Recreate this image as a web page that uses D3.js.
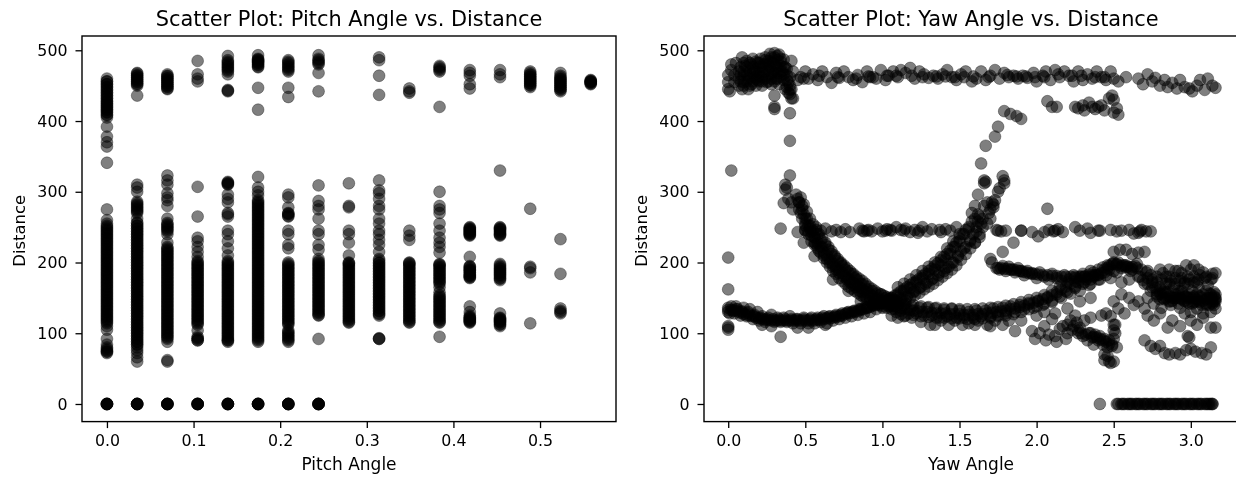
<!DOCTYPE html>
<html>
<head>
<meta charset="utf-8">
<title>Scatter plots</title>
<script src="https://cdnjs.cloudflare.com/ajax/libs/d3/7.8.5/d3.min.js"></script>
<style>
  body { margin: 0; background: #fff; overflow: hidden; }
  svg { display: block; filter: blur(0.45px); }
  text { font-family: "DejaVu Sans", sans-serif; fill: #000; }
</style>
</head>
<body>
<script>
// pitch values are the discrete 2 degree steps seen on the left plot
var pitchSteps = [0, 0.0349, 0.0698, 0.1047, 0.1396, 0.1745, 0.2094, 0.2443, 0.2793, 0.3142, 0.3491, 0.384, 0.4189, 0.4538, 0.4887, 0.5236, 0.5585];

var pitch00 = [0,0,0,0,0,0,72,74,76,80,84,92,105,110,114,118,122,126,130,134,138,142,146,150,154,158,162,166,170,174,178,182,186,190,194,198,202,206,210,214,218,222,226,230,234,238,242,246,250,255,260,275,341,364,370,378,392,405,409,413,416,419,422,425,428,432,436,440,444,448,452,456,460];
var pitch02 = [0,0,0,0,0,0,60,66,72,76,80,84,88,92,96,100,104,108,112,116,120,124,128,132,136,140,144,148,152,156,160,164,168,172,176,180,184,188,192,196,200,204,208,212,216,220,224,228,232,236,240,244,248,252,256,262,270,274,278,282,286,300,306,310,436,450,453,456,459,462,465,468];
var pitch04 = [0,0,0,0,0,0,60,62,88,92,96,100,104,108,112,116,120,124,128,132,136,140,144,148,152,156,160,164,168,172,176,180,184,188,192,196,200,204,208,212,216,220,228,240,244,248,252,256,262,280,288,292,298,310,316,323,445,448,451,454,457,460,463,466];
var pitch06 = [0,0,0,0,0,0,90,92,95,104,112,116,120,124,128,132,136,140,144,148,152,156,160,164,168,172,176,180,184,188,192,196,200,208,215,222,230,235,265,307,456,460,466,485];
var pitch08 = [0,0,0,0,0,0,88,90,92,96,100,104,108,112,116,120,124,128,132,136,140,144,148,152,156,160,164,168,172,176,180,184,188,192,196,200,210,220,230,240,245,265,270,285,290,296,310,312,314,442,443,444,466,470,474,478,482,486,492];
var pitch10 = [0,0,0,0,0,0,88,92,96,100,104,108,112,116,120,124,128,132,136,140,144,148,152,156,160,164,168,172,176,180,184,188,192,196,200,204,208,212,216,220,224,228,232,236,240,244,248,252,256,260,264,268,272,276,280,284,288,295,300,306,321,416,447,476,479,482,484,486,488,493];
var pitch12 = [0,0,0,0,0,0,88,92,96,100,104,112,116,120,124,128,132,136,140,144,148,152,156,160,164,168,172,176,180,184,188,192,196,200,220,225,240,245,265,268,270,278,292,296,434,447,470,474,478,482,486];
var pitch14 = [0,0,0,0,0,0,92,125,128,132,136,140,144,148,152,156,160,164,168,172,176,180,184,188,192,196,200,205,218,225,240,245,262,275,280,287,309,442,468,480,484,488,493];
var pitch16 = [115,118,122,126,130,134,138,142,146,150,154,158,162,166,170,174,178,182,186,190,194,198,200,210,228,240,245,278,280,312];
var pitch18 = [92,92,93,125,128,132,136,140,144,148,152,156,160,164,168,172,176,180,184,188,192,196,200,205,215,225,232,240,245,255,262,275,280,290,298,302,316,437,464,486,490];
var pitch20 = [115,118,122,126,130,134,138,142,146,150,154,158,162,166,170,174,178,182,186,190,194,198,200,232,238,245,440,442,446];
var pitch22 = [95,115,118,122,126,130,134,138,142,146,150,154,158,165,172,176,180,184,188,192,196,198,214,222,228,235,245,255,270,275,280,300,420,470,474,478];
var pitch24 = [115,117,119,121,123,125,130,138,178,180,182,185,188,190,193,195,208,238,240,242,244,246,248,250,446,452,464,468,472];
var pitch26 = [110,113,116,118,120,122,128,175,178,182,185,188,191,194,198,238,240,243,246,248,250,330,462,466,472];
var pitch28 = [114,186,192,194,276,448,451,454,457,460,463,466,470];
var pitch30 = [128,130,132,135,184,233,442,445,448,451,454,457,460,464,468];
var pitch32 = [452,454,455,456,458];

var pitchSeries = [pitch00, pitch02, pitch04, pitch06, pitch08, pitch10, pitch12, pitch14, pitch16, pitch18, pitch20, pitch22, pitch24, pitch26, pitch28, pitch30, pitch32];

// repeat readings inside the solid black runs of each column
var dense00 = [74,78,116,120,124,128,132,136,140,144,148,152,156,160,164,168,172,176,180,184,188,192,196,200,204,208,212,216,220,224,228,232,236,240,244,248,252,408,412,416,420,424,428,432,436,440,444,448,452,456];
var dense02 = [84,88,92,96,100,104,108,112,116,120,124,128,132,136,140,144,148,152,156,160,164,168,172,176,180,184,188,192,196,200,204,208,212,216,220,224,228,232,236,240,244,248,252,256,272,276,280,284,452,455,458,461,464,467];
var dense04 = [94,98,102,106,110,114,118,122,126,130,134,138,142,146,150,154,158,162,166,170,174,178,182,186,190,194,198,202,206,210,214,218,222,246,250,254,446,449,452,455,458,461,464];
var dense06 = [90,93,114,118,122,126,130,134,138,142,146,150,154,158,162,166,170,174,178,182,186,190,194,198,202];
var dense08 = [90,94,98,102,106,110,114,118,122,126,130,134,138,142,146,150,154,158,162,166,170,174,178,182,186,190,194,198,202,268,311,313,472,476,480,484];
var dense10 = [90,94,98,102,106,110,114,118,122,126,130,134,138,142,146,150,154,158,162,166,170,174,178,182,186,190,194,198,202,206,210,214,218,222,226,230,234,238,242,246,250,254,258,262,266,270,274,278,282,286,477,480,483,485,487];
var dense12 = [90,94,98,102,114,118,122,126,130,134,138,142,146,150,154,158,162,166,170,174,178,182,186,190,194,198,266,269,472,476,480,484];
var dense14 = [126,130,134,138,142,146,150,154,158,162,166,170,174,178,182,186,190,194,198,202,482,486];
var dense16 = [116,120,124,128,132,136,140,144,148,152,156,160,164,168,172,176,180,184,188,192,196,199];
var dense18 = [127,131,135,139,143,147,151,155,159,163,167,171,175,179,183,187,191,195,199,203];
var dense20 = [116,120,124,128,132,136,140,144,148,152,156,160,164,168,172,176,180,184,188,192,196,199];
var dense22 = [116,120,124,128,132,136,140,144,148,152,170,174,178,182,186,190,194,197,472,476];
var dense24 = [116,118,120,122,179,181,183,186,189,191,194,239,241,243,245,247,249];
var dense26 = [112,115,117,119,121,177,180,183,186,189,192,196,239,241,244,247,249];
var dense28 = [450,453,456,459,462,465,468];
var dense30 = [444,447,450,453,456,459,462];
var dense32 = [453,455,456,457];

var denseSeries = [dense00, dense02, dense04, dense06, dense08, dense10, dense12, dense14, dense16, dense18, dense20, dense22, dense24, dense26, dense28, dense30, dense32];

// yaw plot, traced strand by strand as [yaw, distance]
var yawOutliers = [[0.02,330],[0,207],[0,162],[0,110],[0,108],[0,105],[0.34,95],[0.34,248],[0.41,485],[0.41,432],[0.40,411],[0.40,372],[0.40,323],[0.30,436],[0.30,420],[0.30,417],[1.64,340],[1.67,365],[1.73,378],[1.75,392],[1.79,414],[1.83,410],[1.87,407],[1.90,403],[2.07,428],[2.10,420],[2.13,420],[2.07,276],[1.78,215],[1.85,228],[1.90,245],[2.41,0]];

var yawBlob = [[0.0,445],[0.0,455],[0.0,465],[0.01,442],[0.02,472],[0.02,480],[0.04,455],[0.04,465],[0.05,482],[0.07,450],[0.07,460],[0.07,470],[0.09,490],[0.09,445],[0.10,455],[0.10,465],[0.11,478],[0.12,485],[0.13,445],[0.13,460],[0.14,470],[0.15,452],[0.15,480],[0.16,488],[0.17,462],[0.17,472],[0.18,450],[0.19,482],[0.19,458],[0.20,468],[0.20,476],[0.21,488],[0.22,450],[0.22,462],[0.23,480],[0.24,470],[0.24,490],[0.25,455],[0.26,465],[0.26,485],[0.27,495],[0.27,476],[0.28,452],[0.28,460],[0.29,470],[0.29,482],[0.30,490],[0.30,496],[0.31,460],[0.31,476],[0.32,468],[0.32,486],[0.33,452],[0.33,494],[0.34,478],[0.34,462],[0.35,470],[0.36,487],[0.36,458],[0.37,476],[0.37,445],[0.38,465],[0.39,440],[0.39,455],[0.40,438],[0.41,445],[0.42,432],[0.42,470]];
var yawBlobCore = [[0.08,456],[0.08,466],[0.08,476],[0.10,450],[0.10,470],[0.10,482],[0.12,456],[0.12,466],[0.12,476],[0.14,450],[0.14,462],[0.14,482],[0.16,456],[0.16,468],[0.16,476],[0.18,460],[0.18,470],[0.18,484],[0.20,456],[0.20,464],[0.20,482],[0.22,456],[0.22,470],[0.22,476],[0.24,460],[0.24,480],[0.24,486],[0.26,456],[0.26,472],[0.26,480],[0.28,466],[0.28,484],[0.28,490],[0.30,456],[0.30,468],[0.30,480],[0.32,460],[0.32,476],[0.32,492],[0.34,470],[0.34,484],[0.34,488],[0.36,466],[0.36,476],[0.38,448],[0.38,458],[0.38,474],[0.40,444],[0.40,450],[0.40,462]];

var yawUpper = [[0.45,458],[0.47,462],[0.50,470],[0.52,460],[0.55,466],[0.58,458],[0.61,470],[0.64,462],[0.67,454],[0.70,468],[0.72,461],[0.75,470],[0.78,462],[0.81,458],[0.84,465],[0.87,455],[0.90,470],[0.92,462],[0.96,460],[0.99,472],[1.02,458],[1.04,464],[1.07,470],[1.10,462],[1.12,472],[1.15,468],[1.18,475],[1.21,460],[1.24,470],[1.27,466],[1.30,461],[1.33,464],[1.36,460],[1.39,466],[1.42,472],[1.45,462],[1.48,458],[1.51,466],[1.54,470],[1.58,456],[1.61,460],[1.64,470],[1.67,458],[1.70,464],[1.73,472],[1.76,460],[1.79,468],[1.82,462],[1.85,464],[1.88,460],[1.91,464],[1.94,461],[1.98,468],[2.00,456],[2.04,464],[2.06,470],[2.09,458],[2.12,472],[2.15,462],[2.18,470],[2.21,464],[2.24,456],[2.27,470],[2.30,458],[2.33,466],[2.36,460],[2.39,470],[2.42,462],[2.45,458],[2.48,470],[2.50,460],[2.53,456],[2.58,462],[2.66,460],[2.69,452],[2.72,466],[2.75,456],[2.77,461],[2.80,450],[2.83,458],[2.85,448],[2.88,454],[2.91,446],[2.93,458],[2.96,448],[2.99,446],[3.01,442],[3.04,450],[3.06,458],[3.09,444],[3.11,460],[3.14,450],[3.16,447]];
var yawUpperDark = [[0.49,460],[0.59,464],[0.71,462],[0.83,460],[0.91,463],[0.94,462],[1.03,464],[1.09,464],[1.19,464],[1.26,462],[1.35,463],[1.41,463],[1.47,462],[1.53,462],[1.59,463],[1.69,462],[1.81,465],[1.87,463],[1.93,463],[1.99,462],[2.05,462],[2.14,466],[2.23,464],[2.29,464],[2.38,462],[2.44,462]];

var yaw245 = [[0.45,243],[0.50,246],[0.53,248],[0.57,250],[0.60,245],[0.63,248],[0.67,244],[0.70,246],[0.73,243],[0.76,247],[0.79,243],[0.85,248],[0.88,244],[0.90,245],[0.93,244],[0.97,248],[1.00,244],[1.03,247],[1.06,245],[1.09,250],[1.12,246],[1.15,248],[1.18,243],[1.21,246],[1.23,242],[1.26,250],[1.29,244],[1.32,247],[1.38,243],[1.41,247],[1.44,245],[1.48,250],[1.74,246],[1.77,244],[1.80,245],[1.90,245],[1.97,243],[2.01,237],[2.05,243],[2.08,246],[2.11,244],[2.14,247],[2.17,243],[2.25,250],[2.28,245],[2.33,248],[2.35,242],[2.40,245],[2.41,245],[2.48,246],[2.52,244],[2.55,245],[2.60,246],[2.63,241],[2.66,242],[2.68,246],[2.71,244],[2.74,244]];
var yaw245Dark = [[0.87,245],[0.91,246],[1.02,245],[1.05,246],[1.14,245],[1.24,245],[1.37,246],[1.75,245],[2.12,245],[2.67,244]];

var yawFalling = [[0.37,310],[0.37,303],[0.38,306],[0.36,284],[0.39,290],[0.41,285],[0.42,275],[0.44,296],[0.45,290],[0.46,285],[0.46,275],[0.47,270],[0.48,280],[0.48,262],[0.49,268],[0.50,255],[0.50,245],[0.51,262],[0.52,240],[0.53,252],[0.54,230],[0.55,245],[0.56,236],[0.57,226],[0.58,240],[0.59,216],[0.60,232],[0.61,222],[0.62,210],[0.63,225],[0.64,205],[0.65,218],[0.66,200],[0.67,212],[0.68,195],[0.69,208],[0.70,190],[0.71,202],[0.72,185],[0.73,198],[0.74,195],[0.75,180],[0.76,190],[0.77,176],[0.78,186],[0.79,172],[0.80,184],[0.81,168],[0.82,178],[0.83,165],[0.84,175],[0.85,160],[0.86,170],[0.87,158],[0.88,168],[0.89,152],[0.90,162],[0.92,150],[0.93,160],[0.95,146],[0.96,155],[0.98,144],[0.99,155],[1.01,142],[1.02,150],[1.04,138],[1.06,146],[1.08,134],[1.10,142],[1.12,132],[1.14,140],[1.17,128],[1.19,138],[1.22,128],[1.24,136],[1.27,125],[1.29,136],[1.32,125],[1.34,135],[1.37,122],[1.40,133],[1.42,124],[1.45,134],[1.48,122],[1.50,132],[1.53,122],[1.56,130],[1.59,122],[1.61,132],[1.64,124],[1.67,132],[1.70,124],[1.72,135],[1.75,126],[1.78,136],[1.80,128],[1.83,138],[1.86,130],[1.89,140],[1.92,134],[1.95,143],[1.98,136],[2.01,145],[2.04,140],[2.07,150],[2.10,144],[2.13,155],[2.16,150],[2.19,160],[2.22,156],[2.25,166],[2.28,160],[2.31,172],[2.34,168],[2.37,180],[2.40,176],[2.42,185],[2.45,182],[2.47,190],[2.50,188],[2.52,198],[2.55,192],[2.58,196],[2.61,188],[2.64,195]];
var yawFallingCore = [[0.46,285],[0.48,275],[0.50,262],[0.52,252],[0.54,243],[0.56,235],[0.58,228],[0.60,222],[0.62,215],[0.64,210],[0.66,204],[0.68,198],[0.70,193],[0.72,189],[0.74,185],[0.76,181],[0.78,177],[0.80,173],[0.82,170],[0.84,167],[0.86,164],[0.88,161],[0.90,158],[0.92,155],[0.94,152],[0.96,150],[0.98,148],[1.00,146],[1.02,144],[1.04,142],[1.06,140],[1.08,138],[1.10,137],[1.12,136],[1.14,135],[1.16,134],[1.18,133],[1.20,132],[1.23,131],[1.26,130],[1.29,130],[1.32,129],[1.35,128],[1.38,128],[1.41,128],[1.44,127],[1.47,127],[1.50,127],[1.53,126],[1.56,126],[1.59,126],[1.62,127],[1.65,127],[1.68,128],[1.71,129],[1.74,130],[1.77,131],[1.80,132],[1.83,134],[1.86,135],[1.89,137],[1.92,139],[1.95,141],[1.98,143],[2.01,146],[2.04,148],[2.07,151],[2.10,154],[2.13,158],[2.16,162],[2.19,166],[2.22,170],[2.25,173],[2.28,176],[2.31,180],[2.34,183],[2.37,186],[2.40,190],[2.43,193],[2.46,196],[2.49,198],[2.52,197],[2.55,195],[2.58,193],[2.61,192]];
var yawFallingOuter = [[0.47,292],[0.49,282],[0.51,272],[0.53,262],[0.55,254],[0.57,246],[0.59,240],[0.61,234],[0.63,228],[0.65,222],[0.67,216],[0.69,210],[0.71,205],[0.73,200],[0.75,196],[0.77,192],[0.79,188],[0.81,184],[0.83,180],[0.85,177],[0.87,174],[0.89,170],[0.91,166],[0.93,163],[0.95,160],[0.97,157],[0.99,155],[1.01,153],[1.03,151],[1.05,149],[1.07,147],[1.15,142],[1.20,140],[1.25,138],[1.30,137],[1.35,136],[1.40,135],[1.45,135],[1.50,134],[1.55,134],[1.60,134],[1.65,135],[1.70,136],[1.75,137],[1.80,139],[1.85,141],[1.90,144],[1.95,147],[2.00,150],[2.05,154],[2.10,160],[2.15,166],[2.20,172],[2.25,178],[2.30,184],[2.35,188],[1.20,126],[1.25,124],[1.30,123],[1.35,122],[1.40,122],[1.45,121],[1.50,121],[1.55,120],[1.60,120],[1.65,121],[1.70,122],[1.75,124],[1.80,125],[1.85,127],[1.90,130]];
var yawFallingInner = [[0.50,252],[0.52,244],[0.54,238],[0.56,228],[0.58,220],[0.60,214],[0.62,206],[0.64,200],[0.66,194],[0.68,188],[0.70,184],[0.72,178],[0.74,174],[0.76,170],[0.78,166],[0.80,163],[0.82,160],[0.84,157],[0.86,154],[0.88,151],[0.90,148],[0.92,146],[0.94,144],[0.96,142],[0.98,140],[1.00,138],[1.03,136],[1.06,134],[1.09,130],[1.12,127],[1.15,125],[1.95,134],[2.00,138],[2.05,142],[2.10,146],[2.15,152],[2.20,158],[2.25,164],[2.30,170],[2.35,176],[2.40,182]];
var yawFallingFringe = [[0.49,228],[0.56,225],[0.56,209],[0.68,176],[0.78,160],[0.86,145],[1.06,125],[1.14,124],[1.19,122],[1.31,112],[1.38,118],[1.43,112],[1.47,118],[1.56,114],[1.62,118],[1.68,112],[1.73,118],[1.78,112],[1.82,118],[1.86,103],[0.22,112],[0.28,110],[0.45,108],[0.52,108],[0.63,112],[1.10,122],[1.25,116],[1.34,112],[1.52,112],[1.60,112],[1.70,110],[1.90,118],[2.00,125],[2.05,130],[2.12,128],[2.20,135],[2.28,145],[2.35,150]];

var yawRising = [[0,130],[0,136],[0.01,128],[0.02,138],[0.03,132],[0.04,128],[0.05,138],[0.06,134],[0.08,125],[0.09,130],[0.10,136],[0.12,124],[0.13,130],[0.14,134],[0.16,120],[0.17,126],[0.19,130],[0.20,118],[0.22,124],[0.24,116],[0.26,122],[0.28,126],[0.30,116],[0.32,122],[0.34,116],[0.36,122],[0.38,116],[0.40,124],[0.42,114],[0.44,120],[0.47,114],[0.49,122],[0.52,114],[0.54,122],[0.56,114],[0.58,122],[0.60,116],[0.62,124],[0.64,114],[0.66,124],[0.68,118],[0.70,126],[0.72,120],[0.74,128],[0.76,122],[0.78,130],[0.80,124],[0.82,132],[0.84,126],[0.86,134],[0.88,128],[0.90,136],[0.92,130],[0.94,140],[0.96,134],[0.98,142],[1.00,136],[1.02,146],[1.04,140],[1.06,150],[1.08,144],[1.10,154],[1.12,148],[1.14,160],[1.16,152],[1.18,164],[1.20,158],[1.22,172],[1.24,164],[1.26,178],[1.28,170],[1.30,184],[1.32,176],[1.34,190],[1.36,182],[1.38,196],[1.40,188],[1.41,204],[1.43,194],[1.44,212],[1.46,200],[1.47,222],[1.49,208],[1.50,230],[1.51,216],[1.53,240],[1.54,222],[1.56,248],[1.57,230],[1.59,240],[1.60,228],[1.61,250],[1.63,240],[1.64,255],[1.58,270],[1.60,280],[1.62,268],[1.62,296],[1.66,312],[1.67,314],[1.66,316],[1.68,255],[1.69,270],[1.70,275],[1.71,285],[1.72,278],[1.73,288],[1.75,300],[1.76,305],[1.78,322],[1.79,316],[1.79,312]];
var yawRisingCore = [[0,133],[0.02,133],[0.04,132],[0.06,131],[0.08,129],[0.10,127],[0.12,126],[0.14,125],[0.16,124],[0.18,122],[0.20,121],[0.22,120],[0.24,119],[0.26,119],[0.28,118],[0.30,118],[0.32,118],[0.34,118],[0.36,118],[0.38,118],[0.40,118],[0.42,118],[0.44,118],[0.46,118],[0.48,118],[0.50,118],[0.52,118],[0.54,118],[0.56,118],[0.58,119],[0.60,119],[0.62,120],[0.64,121],[0.66,121],[0.68,122],[0.70,123],[0.72,124],[0.74,125],[0.76,127],[0.78,128],[0.80,129],[0.82,130],[0.84,131],[0.86,133],[0.88,134],[0.90,136],[0.92,137],[0.94,139],[0.96,140],[0.98,142],[1.00,143],[1.02,146],[1.04,148],[1.06,150],[1.08,153],[1.10,156],[1.12,159],[1.14,162],[1.16,165],[1.18,168],[1.20,171],[1.22,174],[1.24,177],[1.26,181],[1.28,184],[1.30,188],[1.32,191],[1.34,195],[1.36,199],[1.38,203],[1.40,208],[1.42,212],[1.44,217],[1.46,222],[1.48,228],[1.50,234],[1.52,240],[1.54,246],[1.56,250],[1.58,258],[1.60,262],[1.62,258],[1.63,265],[1.65,262],[1.66,280],[1.68,285],[1.70,262],[1.72,282]];
var yawRisingInner = [[0.05,134],[0.09,131],[0.13,128],[0.17,124],[0.21,122],[0.25,120],[0.29,120],[0.33,120],[0.37,120],[0.41,120],[0.45,120],[0.49,120],[0.53,120],[0.57,120],[0.61,122],[0.65,123],[0.69,124],[0.73,126],[0.77,129],[0.81,131],[0.85,134],[0.89,137],[0.93,140],[0.97,143],[1.01,143],[1.05,142],[1.09,146],[1.13,150],[1.17,156],[1.21,160],[1.25,166],[1.29,172],[1.33,178],[1.37,186],[1.41,192],[1.45,200],[1.49,210],[1.53,220],[1.57,232],[1.61,244],[1.65,250]];
var yawRisingLower = [[1.06,138],[1.09,141],[1.12,144],[1.15,146],[1.18,150],[1.21,154],[1.24,157],[1.27,162],[1.30,166],[1.33,170],[1.36,175],[1.39,180],[1.42,185],[1.45,190],[1.48,196],[1.51,204],[1.54,212],[1.57,220],[1.60,228],[1.63,236],[1.10,165],[1.14,170],[1.18,176],[1.22,182],[1.26,188],[1.30,194],[1.34,200],[1.38,208],[1.42,220],[1.46,230],[1.50,240]];

var yawMid = [[1.70,205],[1.71,200],[1.74,192],[1.76,190],[1.78,195],[1.80,188],[1.82,194],[1.84,190],[1.86,186],[1.88,192],[1.90,188],[1.92,182],[1.94,188],[1.97,184],[2.00,178],[2.02,186],[2.05,180],[2.08,176],[2.10,184],[2.13,178],[2.16,174],[2.18,182],[2.21,176],[2.24,182],[2.27,172],[2.29,180],[2.32,176],[2.35,170],[2.38,182],[2.41,176],[2.44,186],[2.46,192],[2.48,178],[2.50,200],[2.52,186],[2.55,172],[2.57,196],[2.60,176],[2.62,190],[2.65,198],[2.67,180],[2.70,170],[2.72,188],[2.75,176],[2.77,164],[2.80,190],[2.82,158],[2.84,180],[2.86,170],[2.88,150],[2.90,188],[2.92,160],[2.94,178],[2.96,146],[2.98,170],[3.00,190],[3.02,152],[3.04,172],[3.06,144],[3.08,186],[3.10,160],[3.12,140],[3.14,178],[3.15,152],[3.16,185]];
var yawMidCore = [[1.75,192],[1.77,192],[1.79,191],[1.81,191],[1.83,190],[1.85,190],[1.87,189],[1.89,188],[1.91,187],[1.93,186],[1.95,185],[1.97,185],[1.99,184],[2.01,183],[2.04,182],[2.07,182],[2.10,181],[2.13,181],[2.16,180],[2.19,180],[2.22,180],[2.25,180],[2.28,180],[2.31,180],[2.34,180],[2.37,182],[2.40,183],[2.44,190],[2.47,195],[2.50,198],[2.53,200],[2.56,196],[2.59,194],[2.62,194],[2.65,192],[2.68,190],[2.71,186],[2.74,182]];
var yawRightCore = [[2.66,180],[2.69,175],[2.72,170],[2.75,165],[2.78,160],[2.81,155],[2.84,150],[2.87,145],[2.90,155],[2.93,150],[2.96,145],[2.99,155],[3.02,150],[3.05,145],[3.08,155],[3.11,150],[3.14,145],[3.16,155],[2.80,148],[2.83,160],[2.86,145],[2.89,150],[2.92,142],[2.95,155],[2.98,150],[3.01,142],[3.04,155],[3.07,140],[3.10,148],[3.13,155],[3.15,145],[3.16,148],[2.78,180],[2.82,185],[2.86,180],[2.90,178],[2.94,185],[2.98,180],[3.02,180],[3.06,182],[3.10,180],[3.14,184]];
var yawRightDark = [[2.78,152],[2.80,156],[2.82,150],[2.84,158],[2.86,152],[2.88,146],[2.90,150],[2.92,156],[2.94,148],[2.96,152],[2.98,144],[3.00,150],[3.02,144],[3.04,148],[3.06,152],[3.08,146],[3.10,142],[3.12,156],[3.14,150],[3.15,140],[3.16,150],[2.72,178],[2.75,172],[2.78,172],[2.81,176],[2.84,170],[2.87,174],[2.90,170],[2.93,174],[2.96,172],[2.99,176],[3.02,172],[3.05,176]];
var yawRightBlob = [[2.72,150],[2.74,160],[2.76,142],[2.78,155],[2.80,165],[2.81,136],[2.83,148],[2.85,158],[2.87,140],[2.89,165],[2.91,150],[2.93,136],[2.94,160],[2.96,170],[2.97,152],[2.99,142],[3.00,130],[3.01,160],[3.03,145],[3.04,135],[3.05,165],[3.07,150],[3.08,128],[3.10,140],[3.11,168],[3.12,150],[3.13,130],[3.14,142],[3.15,158],[3.16,135],[3.16,145],[2.86,190],[2.92,188],[2.97,196],[3.02,196],[3.05,190],[3.09,178],[3.13,176],[2.70,215],[2.62,212],[2.58,218],[2.54,218],[2.66,214],[2.50,215]];
var yawScatter = [[2.50,145],[2.53,135],[2.55,155],[2.57,128],[2.60,150],[2.63,140],[2.66,145],[2.70,135],[2.72,125],[2.76,118],[2.80,128],[2.85,108],[2.88,118],[2.93,110],[2.96,128],[3.00,118],[3.04,112],[3.08,122],[3.13,108],[3.16,108]];
var yawLower = [[1.97,103],[1.99,92],[2.02,100],[2.05,110],[2.06,90],[2.08,98],[2.10,120],[2.12,96],[2.13,88],[2.15,106],[2.17,110],[2.19,92],[2.20,100],[2.22,118],[2.23,105],[2.25,125],[2.26,115],[2.27,100],[2.28,108],[2.30,96],[2.31,118],[2.33,90],[2.34,100],[2.35,122],[2.36,94],[2.37,84],[2.38,98],[2.40,90],[2.41,96],[2.42,125],[2.43,84],[2.44,92],[2.45,128],[2.46,80],[2.47,90],[2.48,124],[2.49,82],[2.50,112],[2.50,92],[2.51,100],[2.52,80],[2.35,100],[2.37,95],[2.39,94],[2.41,92],[2.43,90],[2.45,88],[2.47,85],[2.49,84],[2.51,112],[2.50,104],[2.20,112],[2.24,110],[2.27,104],[2.29,100],[2.32,98]];
var yawLoop = [[2.44,70],[2.44,62],[2.46,68],[2.47,60],[2.48,58],[2.50,60],[2.70,90],[2.74,82],[2.77,78],[2.80,82],[2.83,72],[2.86,70],[2.90,72],[2.93,70],[2.97,76],[3.00,78],[3.03,74],[3.07,72],[3.10,70],[3.13,80],[2.99,94],[2.98,96]];
var yawTopCluster = [[2.25,420],[2.27,418],[2.30,422],[2.31,415],[2.34,426],[2.36,420],[2.38,417],[2.40,420],[2.42,422],[2.44,415],[2.47,432],[2.49,436],[2.50,430],[2.52,418],[2.53,409],[2.50,412]];
var yawZeros = [[2.52,0],[2.55,0],[2.57,0],[2.60,0],[2.62,0],[2.65,0],[2.67,0],[2.70,0],[2.72,0],[2.75,0],[2.77,0],[2.80,0],[2.82,0],[2.85,0],[2.87,0],[2.90,0],[2.92,0],[2.95,0],[2.97,0],[3.00,0],[3.02,0],[3.05,0],[3.07,0],[3.10,0],[3.12,0],[3.14,0],[2.53,0],[2.56,0],[2.59,0],[2.61,0],[2.64,0],[2.66,0],[2.69,0],[2.71,0],[2.74,0],[2.76,0],[2.79,0],[2.81,0],[2.84,0],[2.86,0],[2.89,0],[2.91,0],[2.94,0],[2.96,0],[2.99,0],[3.01,0],[3.04,0],[3.06,0],[3.09,0],[3.11,0],[3.13,0],[3.14,0]];

var yawStrands = [yawOutliers, yawBlob, yawBlobCore, yawUpper, yawUpperDark, yaw245, yaw245Dark, yawFalling, yawFallingCore, yawFallingOuter, yawFallingInner, yawFallingFringe, yawRising, yawRisingCore, yawRisingInner, yawRisingLower, yawMid, yawMidCore, yawRightCore, yawRightDark, yawRightBlob, yawScatter, yawLower, yawLoop, yawTopCluster, yawZeros];

var pitchTicks = [0, 0.1, 0.2, 0.3, 0.4, 0.5];
var yawTicks = [0, 0.5, 1, 1.5, 2, 2.5, 3];
var distTicks = [0, 100, 200, 300, 400, 500];

var pitchPoints = [];
pitchSeries.forEach(function (col, i) {
	col.forEach(function (d) { pitchPoints.push([pitchSteps[i], d]); });
});
denseSeries.forEach(function (col, i) {
	col.forEach(function (d) { pitchPoints.push([pitchSteps[i], d]); });
});
var yawPoints = d3.merge(yawStrands);

var svg = d3.select('body').append('svg')
	.attr('width', 1236)
	.attr('height', 478);

function drawPanel (left, right, xDomain, xTicks, points, title, xLabel, titleX) {
	var top = 36, bottom = 421.6;
	var x = d3.scaleLinear().domain(xDomain).range([left, right]);
	var y = d3.scaleLinear().domain([-24.9, 520.2]).range([bottom, top]);

	var g = svg.append('g');

	g.selectAll('circle').data(points).enter().append('circle')
		.attr('cx', function (d) { return x(d[0]); })
		.attr('cy', function (d) { return y(d[1]); })
		.attr('r', 5.9)
		.attr('fill', '#000')
		.attr('fill-opacity', 0.5)
		.attr('stroke', '#000')
		.attr('stroke-opacity', 0.5)
		.attr('stroke-width', 0.7);

	var xAxis = g.append('g').attr('transform', 'translate(0,' + bottom + ')')
		.call(d3.axisBottom(x).tickValues(xTicks).tickFormat(d3.format('.1f')).tickSize(6.5).tickPadding(7));
	var yAxis = g.append('g').attr('transform', 'translate(' + left + ',0)')
		.call(d3.axisLeft(y).tickValues(distTicks).tickFormat(d3.format('d')).tickSize(6.5).tickPadding(8));

	[xAxis, yAxis].forEach(function (a) {
		a.select('.domain').remove();
		a.selectAll('.tick line').attr('stroke', '#000').attr('stroke-width', 1.3);
		a.selectAll('text').attr('font-family', 'DejaVu Sans').attr('font-size', 15.8).attr('fill', '#000');
	});

	g.append('rect')
		.attr('x', left).attr('y', top)
		.attr('width', right - left).attr('height', bottom - top)
		.attr('fill', 'none').attr('stroke', '#000').attr('stroke-width', 1.4);

	g.append('text')
		.attr('x', titleX).attr('y', 25.5)
		.attr('text-anchor', 'middle').attr('font-size', 20.9)
		.text(title);
	g.append('text')
		.attr('x', titleX).attr('y', 470)
		.attr('text-anchor', 'middle').attr('font-size', 17)
		.text(xLabel);
	g.append('text')
		.attr('transform', 'translate(' + (left - 57) + ',' + ((top + bottom) / 2 + 2) + ') rotate(-90)')
		.attr('text-anchor', 'middle').attr('font-size', 16.4)
		.text('Distance');
}

drawPanel(82, 616, [-0.0288, 0.5877], pitchTicks, pitchPoints, 'Scatter Plot: Pitch Angle vs. Distance', 'Pitch Angle', 349);
drawPanel(704, 1238, [-0.157, 3.306], yawTicks, yawPoints, 'Scatter Plot: Yaw Angle vs. Distance', 'Yaw Angle', 971);
</script>
</body>
</html>
